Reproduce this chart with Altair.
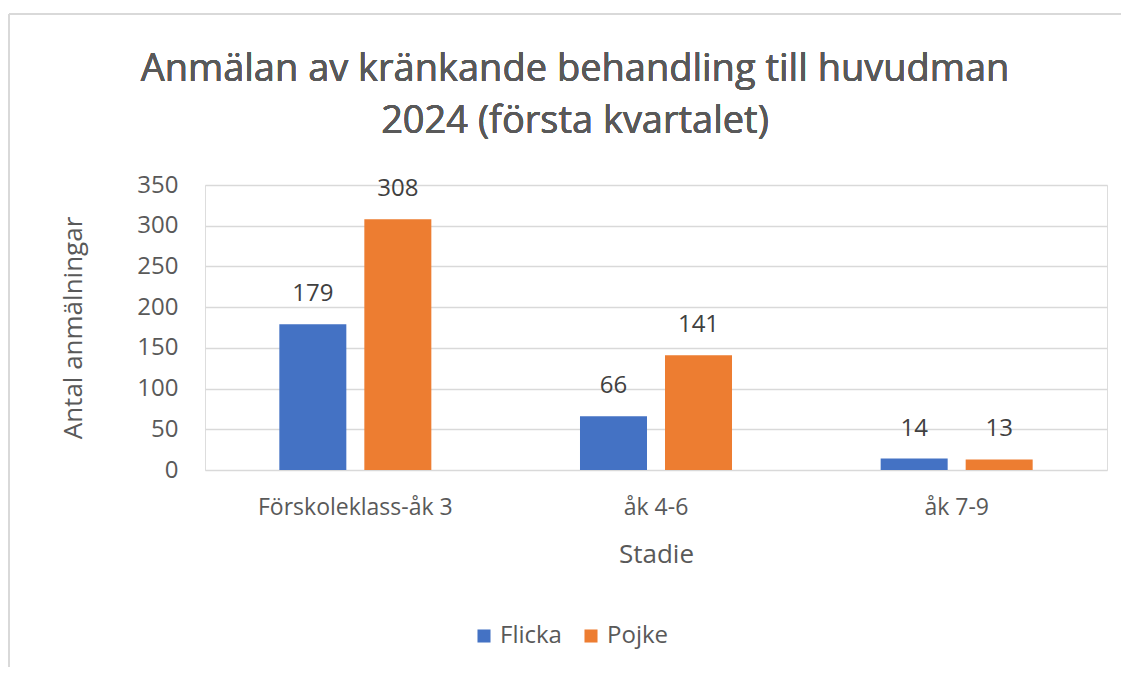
import altair as alt
import pandas as pd

categories = ["Förskoleklass-åk 3", "åk 4-6", "åk 7-9"]
series = ["Flicka", "Pojke"]
flicka = [179, 66, 14]
pojke = [308, 141, 13]
colors = ["#4472C4", "#ED7D31"]
title_lines = ["Anmälan av kränkande behandling till huvudman", "2024 (första kvartalet)"]

rows = []
for i, c in enumerate(categories):
    rows.append({"Stadie": c, "Kön": "Flicka", "Antal": flicka[i]})
    rows.append({"Stadie": c, "Kön": "Pojke", "Antal": pojke[i]})
df = pd.DataFrame(rows)

FONT = "Open Sans"
GRAY = "#595959"

x_enc = alt.X("Stadie:N", sort=categories,
              scale=alt.Scale(paddingInner=0, paddingOuter=0),
              axis=alt.Axis(title="Stadie", labelAngle=0, ticks=False, domain=False,
                            labelFontSize=23, labelColor=GRAY, labelPadding=26, labelLimit=0,
                            titleFontSize=26, titleColor=GRAY, titlePadding=22,
                            titleFontWeight="normal", labelFont=FONT, titleFont=FONT))
xoff = alt.XOffset("Kön:N", sort=series,
                   scale=alt.Scale(paddingInner=0.2118, paddingOuter=0.8744))

bars = alt.Chart(df).mark_bar().encode(
    x=x_enc,
    xOffset=xoff,
    y=alt.Y("Antal:Q", scale=alt.Scale(domain=[0, 350]),
            axis=alt.Axis(title="Antal anmälningar", values=[0, 50, 100, 150, 200, 250, 300, 350],
                          ticks=False, domain=False, grid=True, gridColor="#D9D9D9",
                          gridWidth=1.5, labelFontSize=24, labelColor=GRAY, labelPadding=27,
                          titleFontSize=26, titleColor=GRAY, titlePadding=50,
                          titleFontWeight="normal", labelFont=FONT, titleFont=FONT)),
    color=alt.Color("Kön:N", sort=series, scale=alt.Scale(domain=series, range=colors),
                    legend=alt.Legend(title=None, orient="none", direction="horizontal",
                                      legendX=267, legendY=439, symbolType="square",
                                      symbolSize=170, symbolStrokeWidth=0,
                                      labelFontSize=24, labelColor=GRAY, labelFont=FONT,
                                      columnPadding=17, labelOffset=4)),
)

labels = alt.Chart(df).mark_text(dy=-30, fontSize=24, color="#404040", font=FONT,
                                 baseline="middle").encode(
    x=alt.X("Stadie:N", sort=categories),
    xOffset=alt.XOffset("Kön:N", sort=series),
    y="Antal:Q",
    text="Antal:Q",
)

title1 = alt.Chart(df).mark_text(fontSize=38, color=GRAY, font=FONT, baseline="middle",
                                 align="center").encode(
    x=alt.value(370), y=alt.value(-115), text=alt.value(title_lines[0]))
title2 = alt.Chart(df).mark_text(fontSize=38, color=GRAY, font=FONT, baseline="middle",
                                 align="center").encode(
    x=alt.value(370), y=alt.value(-63), text=alt.value(title_lines[1]))

top_line = alt.Chart(df).mark_rule(stroke="#D9D9D9", strokeWidth=2).encode(
    x=alt.value(-196), x2=alt.value(1000), y=alt.value(-171)
)
left_line = alt.Chart(df).mark_rule(stroke="#D9D9D9", strokeWidth=2).encode(
    x=alt.value(-196), y=alt.value(-171), y2=alt.value(700)
)

chart = alt.layer(top_line, left_line, bars, labels, title1, title2).properties(
    width=902, height=285,
    autosize=alt.AutoSizeParams(type="none"),
    padding={"left": 197, "top": 177, "right": 14, "bottom": 197},
).configure_view(stroke=None).configure(background="white")

chart.save("out.html", embed_options={"renderer": "svg", "actions": False})
